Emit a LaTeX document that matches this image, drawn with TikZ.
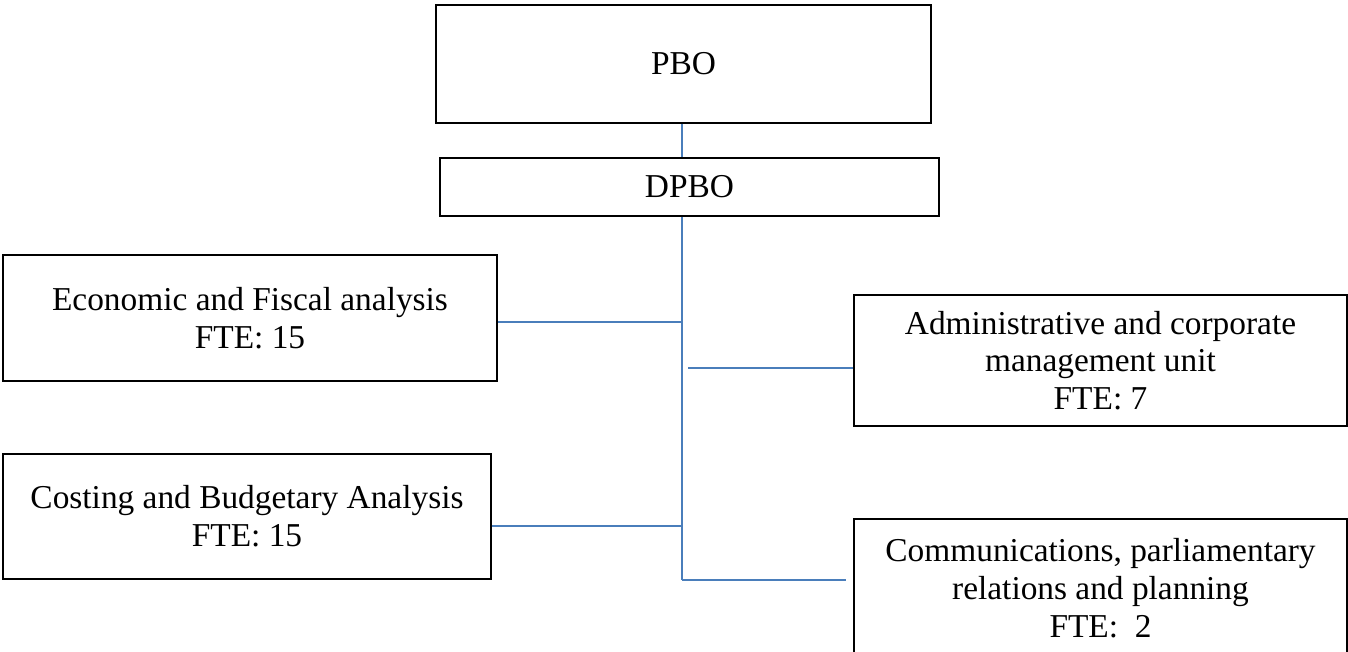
\documentclass[tikz,border=0pt]{standalone}
\usepackage{fontspec}
\setmainfont{Liberation Serif}
\usepackage{xcolor}
\usepackage{tikz}
\definecolor{linkblue}{HTML}{4A7EBB}

\begin{document}
\begin{tikzpicture}[x=0.02cm, y=-0.02cm,
      unit/.style={draw=black, line width=1.1pt, align=center, inner sep=0pt, font=\fontsize{19}{21.5}\selectfont},
      link/.style={draw=linkblue, line width=0.85pt}]
    \useasboundingbox (0,0) rectangle (1348,652);
    % head of the office
    \node[unit, minimum width=9.9cm, minimum height=2.36cm] (pbo) at (683.5,64) {PBO};
    \node[unit, minimum width=9.98cm, minimum height=1.16cm] (dpbo) at (689.5,187) {DPBO};
    % units, left side
    \node[unit, minimum width=9.88cm, minimum height=2.52cm] (econ) at (250,318) {Economic and Fiscal analysis\\FTE: 15};
    \node[unit, minimum width=9.76cm, minimum height=2.5cm] (cost) at (247,516.5) {Costing and Budgetary Analysis\\FTE: 15};
    % units, right side
    \node[unit, minimum width=9.86cm, minimum height=2.62cm] (admin) at (1100.5,360.5) {Administrative and corporate\\management unit\\FTE: 7};
    \node[unit, minimum width=9.86cm, minimum height=2.76cm] (comms) at (1100.5,588) {Communications, parliamentary\\relations and planning\\FTE: \ 2};
    % connectors
    \coordinate (trunk) at (682,580);
    \draw[link] (pbo.south -| trunk) -- (dpbo.north -| trunk);
    \draw[link] (dpbo.south -| trunk) -- (trunk);
    \draw[link] ([yshift=-0.08cm]econ.east) -- ([yshift=-0.08cm]econ.east -| trunk);
    \draw[link] ([yshift=-0.19cm]cost.east) -- ([yshift=-0.19cm]cost.east -| trunk);
    \draw[link] ([yshift=-0.15cm]admin.west) -- ([shift={(0.12cm,-0.15cm)}]admin.west -| trunk);
    \draw[link] (trunk) -- ([xshift=-0.14cm]trunk -| comms.west);
\end{tikzpicture}
\end{document}
